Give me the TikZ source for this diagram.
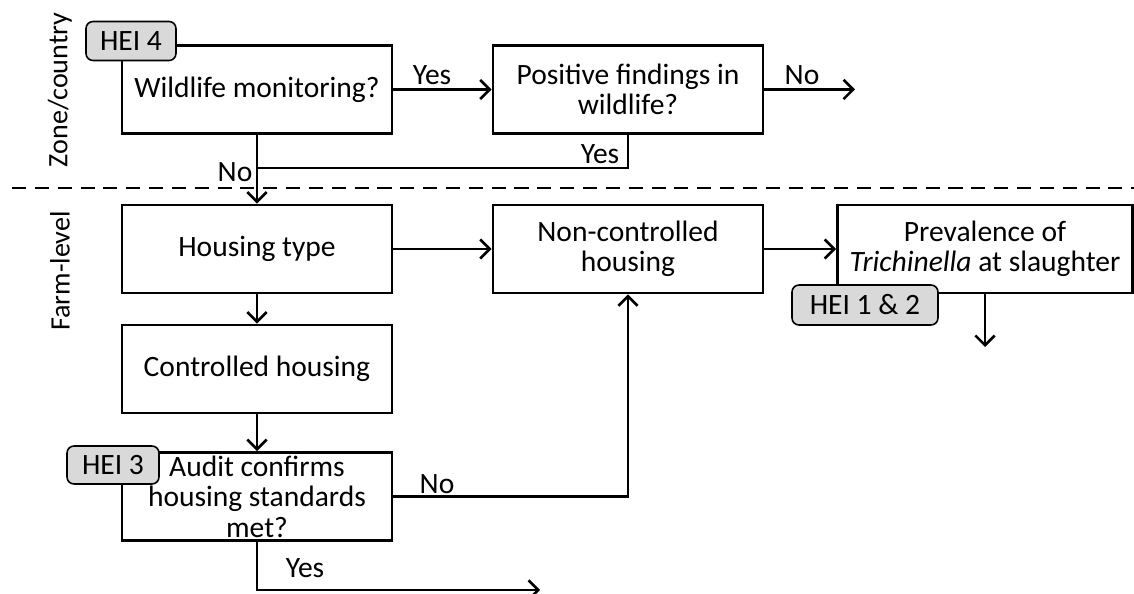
\documentclass[tikz,border=0pt]{standalone}
\usepackage{fontspec}
\setmainfont{Carlito}
\usepackage{tikz}
\usetikzlibrary{positioning}
\usetikzlibrary{arrows.meta}
\usetikzlibrary{calc}

\begin{document}
\begin{tikzpicture}[x=0.02cm, y=-0.02cm,
  font=\fontsize{16.8}{17.4}\selectfont,
  every path/.style={line width=1.5pt},
  box/.style={draw, line width=1.5pt, minimum width=5.4cm, minimum height=1.76cm, align=center, inner sep=2pt},
  tag/.style={draw, line width=0.9pt, rounded corners=4pt, fill=black!15, inner sep=2pt},
  arr/.style={-{Straight Barb[length=5.5pt,width=11pt]}}]
\useasboundingbox (0,0) rectangle (1134,594);

% zones
\node[rotate=90, font=\fontsize{16}{18}\selectfont] (zone) at (60,90) {Zone/country};
\node[rotate=90, font=\fontsize{16}{18}\selectfont] (farm) at (60,271) {Farm-level};
\draw[dashed, dash pattern=on 8pt off 5pt] (12,188) -- (1134,188);

% boxes
\node[box] (wild) at (257,89.5) {Wildlife monitoring?};
\node[box] (pos) at (628,89.5) {Positive findings in\\wildlife?};
\node[box] (house) at (257,249) {Housing type};
\node[box] (nonctrl) at (628,249) {Non-controlled\\housing};
\node[box, minimum width=5.9cm] (prev) at (985,249) {Prevalence of\\\textit{Trichinella} at slaughter};
\node[box] (ctrl) at (257,369) {Controlled housing};
\node[box, inner sep=0pt] (audit) at (257,496.5) {Audit confirms\\housing standards\\met?};

% tags
\node[tag, minimum width=1.8cm, minimum height=0.78cm] (hei4) at (131,41) {HEI 4};
\node[tag, minimum width=1.84cm, minimum height=0.76cm] (hei3) at (113,465) {HEI 3};
\node[tag, minimum width=2.92cm, minimum height=0.8cm] (hei12) at (865,305) {HEI 1 \& 2};

% free ends
\coordinate (outno) at (855,89.5);
\coordinate (join) at (257,168);
\coordinate (outprev) at (985,347);
\coordinate (outyes) at (540,590);

\draw[arr] (wild) -- (pos);
\draw[arr] (pos) -- (outno);
\draw (pos.south) |- (join);
\draw[arr] (wild) -- (house);
\draw[arr] (house) -- (ctrl);
\draw[arr] (ctrl) -- (audit);
\draw[arr] (house) -- (nonctrl);
\draw[arr] (nonctrl) -- (prev);
\draw[arr] (prev) -- (outprev);
\draw[arr] (audit.east) -| (nonctrl.south);
\draw[arr] (audit.south) |- (outyes);

% labels
\node (yes1) at (432,75) {Yes};
\node (no1) at (802,75) {No};
\node (yes2) at (600,154) {Yes};
\node (no2) at (235,172) {No};
\node (no3) at (437,484) {No};
\node (yes3) at (305,568) {Yes};
\end{tikzpicture}
\end{document}
